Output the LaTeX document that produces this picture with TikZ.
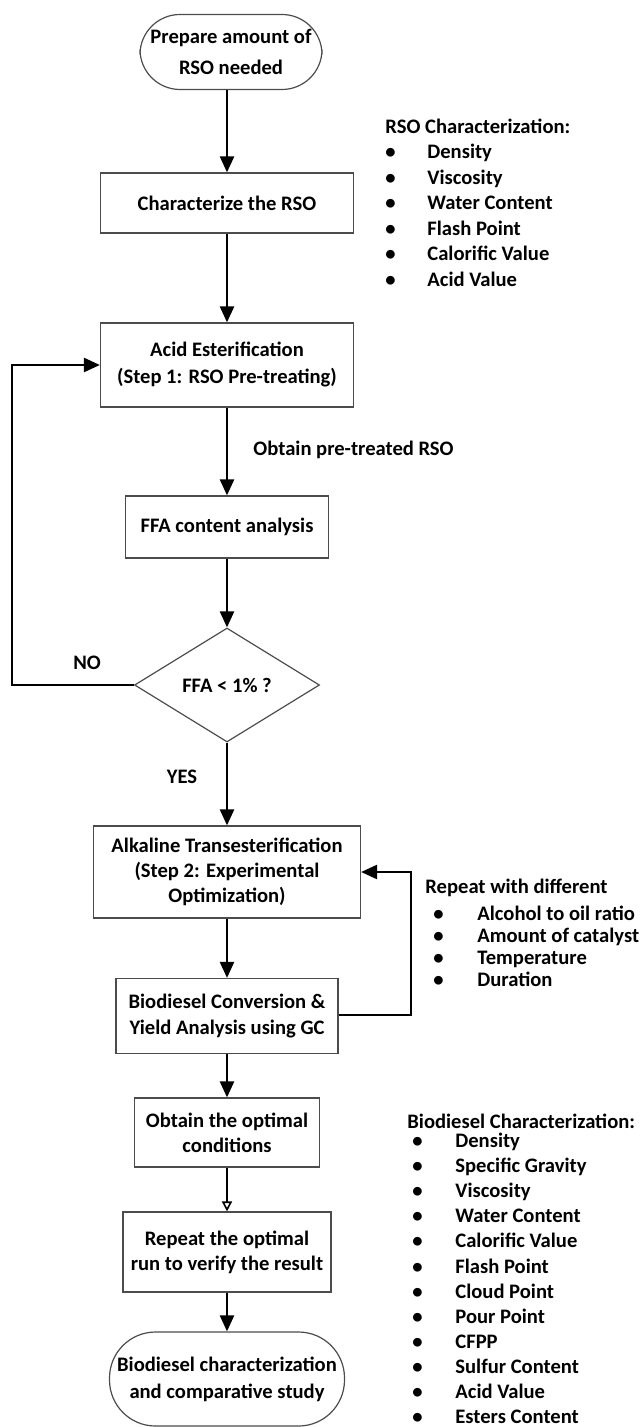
\documentclass[tikz,border=0pt]{standalone}
\usepackage{fontspec}
\setmainfont{Carlito}
\usetikzlibrary{shapes.geometric,arrows.meta}
\begin{document}
\begin{tikzpicture}[x=0.5pt,y=-0.5pt,
  every node/.style={font=\fontsize{10.3}{12.6}\selectfont\bfseries, text=black},
  boxstyle/.style={draw=black!70, line width=0.6pt, align=center, inner sep=2pt},
  termstyle/.style={boxstyle, rounded corners=20pt},
  arr/.style={line width=1.2pt, -{Triangle[length=8pt,width=7pt]}},
  thinarr/.style={line width=0.8pt, -{Triangle[open,length=5pt,width=5pt]}},
  lbl/.style={anchor=base west, inner sep=0pt}]
\useasboundingbox (0,0) rectangle (640,1427);
% main flow
\node[termstyle, minimum width=91pt, minimum height=37.5pt, font=\fontsize{10.3}{15.5}\selectfont\bfseries] (start) at (231,52) {Prepare amount of\\RSO needed};
\node[boxstyle, minimum width=126.5pt, minimum height=30pt] (char) at (227,203) {Characterize the RSO};
\node[boxstyle, minimum width=126.5pt, minimum height=42pt, font=\fontsize{10.3}{13.5}\selectfont\bfseries] (acid) at (227,365) {Acid Esterification\\(Step 1: RSO Pre-treating)};
\node[boxstyle, minimum width=101.5pt, minimum height=31pt] (ffa) at (227,527) {FFA content analysis};
\node[draw=black!70, line width=0.6pt, shape=diamond, inner sep=0pt, minimum width=92.5pt, minimum height=57pt] (dia) at (227,685) {FFA {<} 1\% ?};
\node[boxstyle, minimum width=133.5pt, minimum height=46pt] (alk) at (227,872) {Alkaline Transesterification\\(Step 2: Experimental\\Optimization)};
\node[boxstyle, minimum width=111pt, minimum height=37.5pt] (gc) at (227,1016) {Biodiesel Conversion \&\\Yield Analysis using GC};
\node[boxstyle, minimum width=92.5pt, minimum height=34.5pt] (opt) at (227,1132.5) {Obtain the optimal\\conditions};
\node[boxstyle, minimum width=104pt, minimum height=40pt] (rep) at (227,1252) {Repeat the optimal\\run to verify the result};
\node[termstyle, rounded corners=23pt, minimum width=117.5pt, minimum height=47pt, font=\fontsize{10.3}{13.5}\selectfont\bfseries] (end) at (227,1379) {Biodiesel characterization\\and comparative study};
% arrows
\draw[arr] (char.north |- start.south) -- (char.north);
\draw[arr] (char) -- (acid);
\draw[arr] (acid) -- (ffa);
\draw[arr] (ffa) -- (dia);
\draw[arr] (dia) -- (alk);
\draw[arr] (alk) -- (gc);
\draw[arr] (gc) -- (opt);
\draw[thinarr] (opt) -- (rep);
\draw[arr] (rep) -- (end);
% loops
\coordinate (lp) at (12,685);
\draw[arr] (dia.west) -- (lp) |- (acid.west);
\coordinate (rp) at (411,1015);
\draw[arr] (gc.east |- rp) -- (rp) |- (alk.east);
% labels
\node[anchor=west, inner sep=0pt] (obt) at (253,450) {Obtain pre-treated RSO};
\node[inner sep=0pt] (no) at (87,663) {NO};
\node[inner sep=0pt] (yes) at (182,777) {YES};
% RSO list
\node[lbl] (rsoh) at (385,133.5) {RSO Characterization:};
\foreach \t [count=\i] in {Density,Viscosity,Water Content,Flash Point,Calorific Value,Acid Value}{
  \node[lbl] (rb\i) at (385,{153+(\i-1)*25.6+5.5}) {\textbullet};
  \node[lbl] (ri\i) at (427,{153+(\i-1)*25.6+5.5}) {\t};
}
% repeat list
\node[lbl] (reph) at (425,893.5) {Repeat with different};
\foreach \t [count=\i] in {Alcohol to oil ratio,Amount of catalyst,Temperature,Duration}{
  \node[lbl] (pb\i) at (433,{915+(\i-1)*22+5.5}) {\textbullet};
  \node[lbl] (pi\i) at (477,{915+(\i-1)*22+5.5}) {\t};
}
% biodiesel list
\node[lbl] (bioh) at (407,1128.5) {Biodiesel Characterization:};
\foreach \t [count=\i] in {Density,Specific Gravity,Viscosity,Water Content,Calorific Value,Flash Point,Cloud Point,Pour Point,CFPP,Sulfur Content,Acid Value,Esters Content}{
  \node[lbl] (bb\i) at (412,{1142+(\i-1)*25.1+5.5}) {\textbullet};
  \node[lbl] (bi\i) at (455,{1142+(\i-1)*25.1+5.5}) {\t};
}
\end{tikzpicture}
\end{document}
